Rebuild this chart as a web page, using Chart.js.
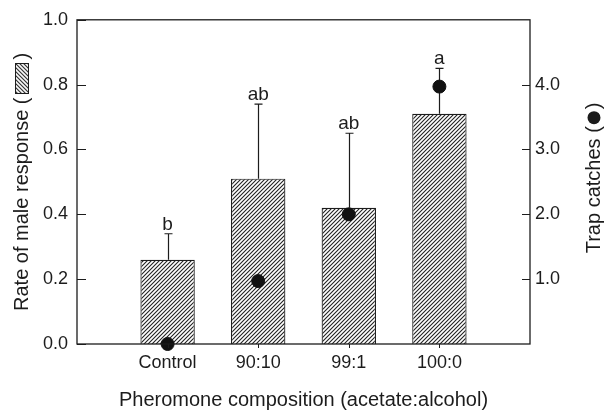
<!DOCTYPE html>
<html>
<head>
<meta charset="utf-8">
<script src="https://cdn.jsdelivr.net/npm/chart.js@4.4.1/dist/chart.umd.min.js"></script>
<style>
  html, body { margin: 0; padding: 0; background: #fff; }
  #wrap { width: 611px; height: 412px; }
</style>
</head>
<body>
<div id="wrap"><canvas id="chart"></canvas></div>
<script>
// values
const categories = ['Control', '90:10', '99:1', '100:0'];
const responseRate = [0.26, 0.51, 0.42, 0.71];
const responseUpper = [0.34, 0.74, 0.65, 0.85];   // top of error bar
const trapCatches = [0.0, 0.97, 2.0, 3.97];
const groupLetters = ['b', 'ab', 'ab', 'a'];
const leftTicks = [0, 0.2, 0.4, 0.6, 0.8, 1.0];
const rightTicks = [1, 2, 3, 4];

const FONT = "'Liberation Sans', Arial, Helvetica, sans-serif";
const INK = '#1c1c1c';

function hatchPattern() {
    const c = document.createElement('canvas');
    c.width = 4; c.height = 4;
    const g = c.getContext('2d');
    g.fillStyle = '#fff';
    g.fillRect(0, 0, 4, 4);
    g.strokeStyle = '#222';
    g.lineWidth = 1.1;
    g.beginPath();
    g.moveTo(0, 4); g.lineTo(4, 0);
    g.moveTo(-1, 1); g.lineTo(1, -1);
    g.moveTo(3, 5); g.lineTo(5, 3);
    g.stroke();
    return g.createPattern(c, 'repeat');
}
const hatch = hatchPattern();

// error bars, frame, inward ticks, letters, axis titles with symbols
const decorations = {
    id: 'decorations',
    afterDatasetDraw(chart, args) {
        if (args.index !== 0) return;
        const { ctx, scales: { x, y } } = chart;
        ctx.save();
        ctx.strokeStyle = INK;
        ctx.lineWidth = 1.2;
        responseRate.forEach((v, i) => {
            const px = Math.round(x.getPixelForValue(i + 1)) + 0.5;
            const y0 = y.getPixelForValue(v);
            const y1 = y.getPixelForValue(responseUpper[i]);
            ctx.beginPath();
            ctx.moveTo(px, y0); ctx.lineTo(px, y1);
            ctx.moveTo(px - 4, y1); ctx.lineTo(px + 4, y1);
            ctx.stroke();
        });
        ctx.restore();
    },
    afterDraw(chart) {
        const { ctx, chartArea: a, scales: { x, y, y2 } } = chart;
        const midY = (a.top + a.bottom) / 2;
        ctx.save();
        ctx.strokeStyle = INK;
        ctx.lineWidth = 1.3;
        ctx.strokeRect(a.left, a.top, a.right - a.left, a.bottom - a.top);

        ctx.lineWidth = 1;
        ctx.beginPath();
        leftTicks.forEach(v => {
            const py = Math.round(y.getPixelForValue(v)) + 0.5;
            ctx.moveTo(a.left, py); ctx.lineTo(a.left + 9, py);
        });
        rightTicks.forEach(v => {
            const py = Math.round(y2.getPixelForValue(v)) + 0.5;
            ctx.moveTo(a.right - 8, py); ctx.lineTo(a.right, py);
        });
        categories.forEach((c, i) => {
            const px = Math.round(x.getPixelForValue(i + 1)) + 0.5;
            ctx.moveTo(px, a.bottom); ctx.lineTo(px, a.bottom + 4);
        });
        ctx.stroke();

        // significance letters
        ctx.fillStyle = INK;
        ctx.font = '19px ' + FONT;
        ctx.textAlign = 'center';
        ctx.textBaseline = 'alphabetic';
        groupLetters.forEach((t, i) => {
            ctx.fillText(t, x.getPixelForValue(i + 1), y.getPixelForValue(responseUpper[i]) - 4);
        });

        ctx.font = '20px ' + FONT;
        ctx.textAlign = 'left';
        ctx.textBaseline = 'middle';
        const gap = 4;

        // left title with hatched box symbol
        {
            const t1 = 'Rate of male response (';
            const t2 = ')';
            const w1 = ctx.measureText(t1).width;
            const w2 = ctx.measureText(t2).width;
            const boxL = 30, boxW = 13;
            const total = w1 + gap + boxL + gap + w2;
            ctx.save();
            ctx.translate(22, midY);
            ctx.rotate(-Math.PI / 2);
            let sx = -total / 2;
            ctx.fillText(t1, sx, 0);
            sx += w1 + gap;
            ctx.fillStyle = hatch;
            ctx.fillRect(sx, -boxW / 2, boxL, boxW);
            ctx.strokeRect(sx, -boxW / 2, boxL, boxW);
            sx += boxL + gap;
            ctx.fillStyle = INK;
            ctx.fillText(t2, sx, 0);
            ctx.restore();
        }

        // right title with filled dot symbol
        {
            const t1 = 'Trap catches (';
            const t2 = ')';
            const w1 = ctx.measureText(t1).width;
            const w2 = ctx.measureText(t2).width;
            const r = 6.5;
            const total = w1 + 2 + 2 * r + 2 + w2;
            ctx.save();
            ctx.translate(594, midY - 4);
            ctx.rotate(-Math.PI / 2);
            let sx = -total / 2;
            ctx.fillText(t1, sx, 0);
            sx += w1 + 2;
            ctx.beginPath();
            ctx.arc(sx + r, 0, r, 0, Math.PI * 2);
            ctx.fill();
            sx += 2 * r + 2;
            ctx.fillText(t2, sx, 0);
            ctx.restore();
        }
        ctx.restore();
    }
};

new Chart(document.getElementById('chart'), {
    type: 'bar',
    data: {
        datasets: [
            {
                type: 'bar',
                data: responseRate.map((v, i) => ({ x: i + 1, y: v })),
                backgroundColor: hatch,
                borderColor: INK,
                borderWidth: 1.2,
                barPercentage: 0.6,
                categoryPercentage: 1.0,
                yAxisID: 'y',
                order: 2
            },
            {
                type: 'scatter',
                data: trapCatches.map((v, i) => ({ x: i + 1, y: v })),
                backgroundColor: '#111',
                borderColor: '#111',
                pointRadius: 6.5,
                yAxisID: 'y2',
                clip: false,
                order: 1
            }
        ]
    },
    options: {
        responsive: true,
        maintainAspectRatio: false,
        animation: false,
        layout: { padding: { top: 17 } },
        plugins: { legend: { display: false }, tooltip: { enabled: false } },
        scales: {
            x: {
                type: 'linear',
                min: 0,
                max: 5,
                offset: false,
                grid: { display: false, drawTicks: false },
                border: { display: false },
                afterBuildTicks: s => { s.ticks = categories.map((c, i) => ({ value: i + 1 })); },
                afterFit: s => { s.height = 68; },
                ticks: {
                    padding: 8,
                    color: INK,
                    font: { family: FONT, size: 18 },
                    callback: (v, i) => categories[i]
                },
                title: {
                    display: true,
                    text: 'Pheromone composition (acetate:alcohol)',
                    color: INK,
                    font: { family: FONT, size: 20 },
                    padding: { top: 0, bottom: 0 }
                }
            },
            y: {
                position: 'left',
                min: 0,
                max: 1,
                grid: { display: false, drawTicks: false },
                border: { display: false },
                afterBuildTicks: s => { s.ticks = leftTicks.map(v => ({ value: v })); },
                afterFit: s => { s.width = 77; },
                ticks: {
                    padding: 9,
                    color: INK,
                    font: { family: FONT, size: 18 },
                    callback: v => v.toFixed(1)
                }
            },
            y2: {
                position: 'right',
                min: 0,
                max: 5,
                grid: { display: false, drawTicks: false },
                border: { display: false },
                afterBuildTicks: s => { s.ticks = rightTicks.map(v => ({ value: v })); },
                afterFit: s => { s.width = 81; },
                ticks: {
                    padding: 5,
                    color: INK,
                    font: { family: FONT, size: 18 },
                    callback: v => v.toFixed(1)
                }
            }
        }
    },
    plugins: [decorations]
});
</script>
</body>
</html>
